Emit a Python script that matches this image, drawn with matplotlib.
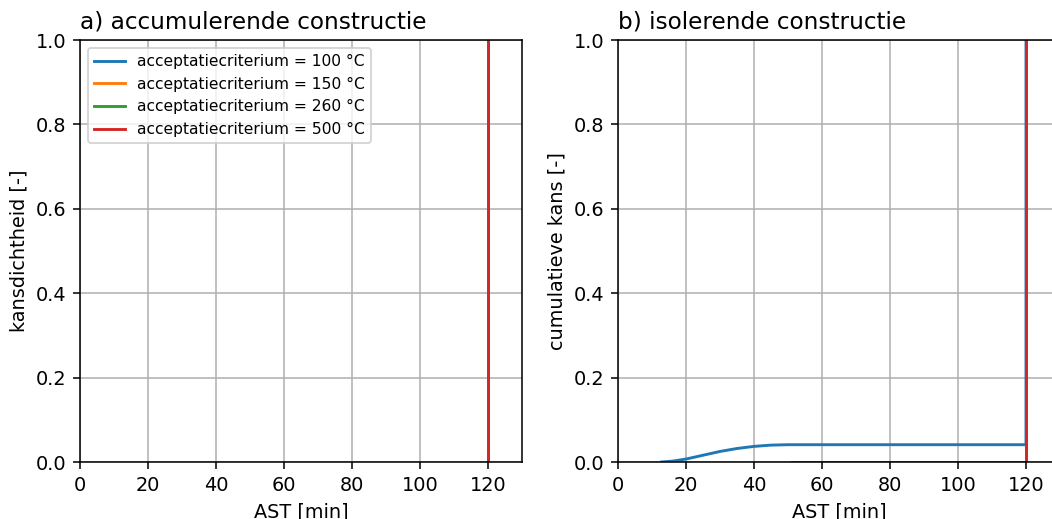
import numpy as np
import matplotlib
matplotlib.use('Agg')
import matplotlib.pyplot as plt

labels=['acceptatiecriterium = 100 °C','acceptatiecriterium = 150 °C',
        'acceptatiecriterium = 260 °C','acceptatiecriterium = 500 °C']
colors=['tab:blue','tab:orange','tab:green','tab:red']

# kansdichtheid (a): all mass sits at 120 min
pdf_x=[120,120]
pdf_y=[0,10]

# cumulatieve kans (b)
cdf_x_100=[12.8,16,20,25,30,35,40,45,50,60,80,100,120,120]
cdf_y_100=[0,0.002,0.007,0.016,0.025,0.032,0.037,0.040,0.041,0.041,0.041,0.041,0.041,1.0]
cdf_x_rest=[51.3,80,120,120]
cdf_y_rest=[0,0,0,1.0]

dpi=139
fig=plt.figure(figsize=(1052/dpi,519/dpi),dpi=dpi)
ax1=fig.add_axes([80/1052,57/519,442/1052,422/519])
ax2=fig.add_axes([618/1052,57/519,442/1052,422/519])

for i in range(4):
    ax1.plot(pdf_x,pdf_y,color=colors[i],label=labels[i])
    if i==0:
        ax2.plot(cdf_x_100,cdf_y_100,color=colors[i])
    else:
        ax2.plot(cdf_x_rest,cdf_y_rest,color=colors[i])

for ax in (ax1,ax2):
    ax.set_xlim(0,130)
    ax.set_ylim(0,1)
    ax.set_xlabel('AST [min]')
    ax.grid(True)

ax1.set_ylabel('kansdichtheid [-]')
ax2.set_ylabel('cumulatieve kans [-]')
ax1.set_title('a) accumulerende constructie',loc='left')
ax2.set_title('b) isolerende constructie',loc='left')
ax1.legend(loc='upper left',fontsize=8)

fig.savefig('out.png',dpi=dpi)
